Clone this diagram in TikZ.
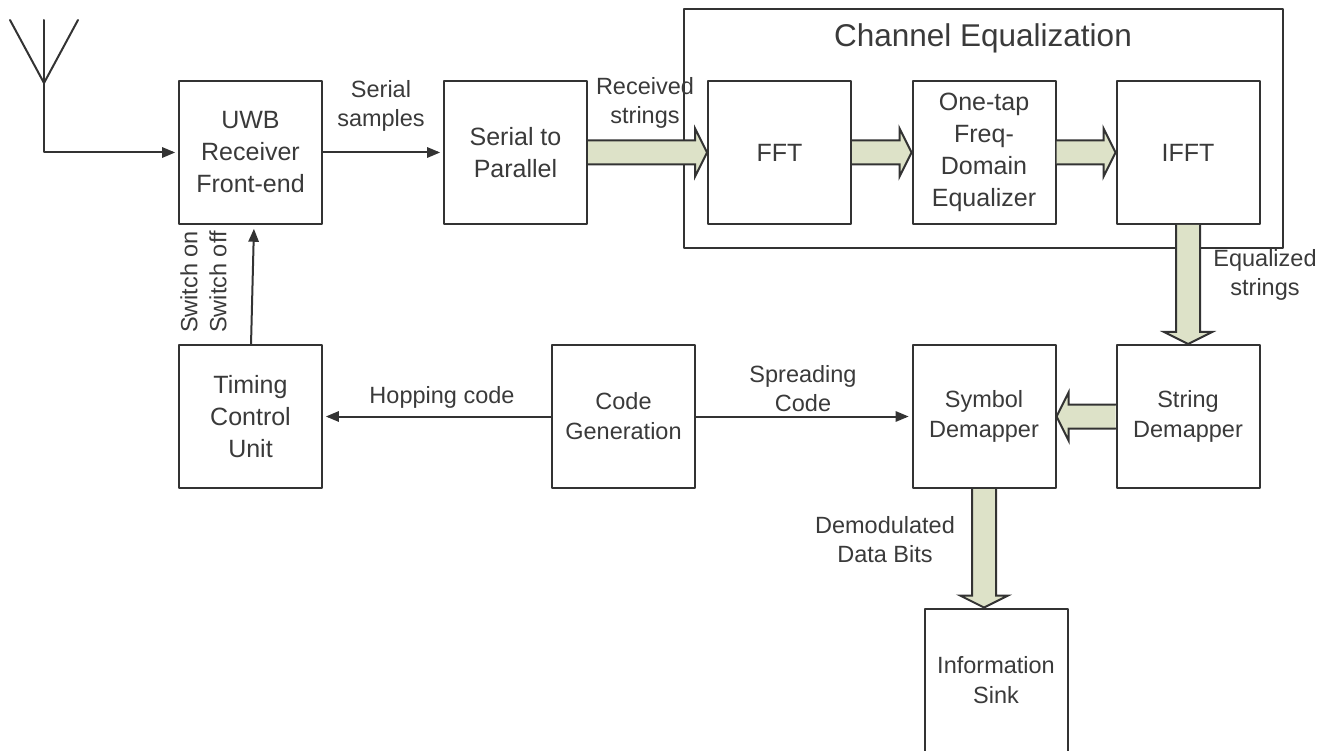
\documentclass[tikz,border=0pt]{standalone}
\usepackage{fontspec}
\setmainfont{Liberation Sans}
\usepackage{tikz}
\usetikzlibrary{arrows}
\usetikzlibrary{calc}
\definecolor{LineGray}{HTML}{333333}
\definecolor{TextGray}{HTML}{3A3A3A}
\definecolor{ShaftGreen}{HTML}{DDE2C8}
\tikzset{
unitbox/.style={draw=LineGray,line width=2pt,fill=white,minimum width=143pt,minimum height=143pt,inner sep=0pt,align=center,text=TextGray,font=\fontsize{25}{32}\selectfont},
smallunit/.style={unitbox,font=\fontsize{23.5}{30}\selectfont},
tag/.style={inner sep=0pt,align=center,text=TextGray,font=\fontsize{23.5}{29}\selectfont},
wire/.style={->,line width=2pt,color=LineGray,shorten >=3pt},
fatwire/.style={draw=LineGray,fill=ShaftGreen,line width=2pt,line join=miter,
to path={($(\tikztostart)!12pt!90:(\tikztotarget)$)
-- ($($(\tikztotarget)!12pt!(\tikztostart)$)!12pt!-90:(\tikztostart)$)
-- ($($(\tikztotarget)!12pt!(\tikztostart)$)!24pt!-90:(\tikztostart)$)
-- (\tikztotarget)
-- ($($(\tikztotarget)!12pt!(\tikztostart)$)!24pt!90:(\tikztostart)$)
-- ($($(\tikztotarget)!12pt!(\tikztostart)$)!12pt!90:(\tikztostart)$)
-- ($(\tikztostart)!12pt!-90:(\tikztotarget)$)}}
}
\begin{document}
\begin{tikzpicture}[line cap=round,line join=round,>=triangle 45,x=1pt,y=-1pt]
\useasboundingbox (0,0) rectangle (1328,751);
% channel equalization frame
\node[draw=LineGray,line width=2pt,minimum width=599pt,minimum height=239pt,inner sep=0pt] (chan) at (983.5,128.5) {};
\node[tag,font=\fontsize{31.5}{36}\selectfont] (chantitle) at (983,38) {Channel Equalization};
% blocks
\node[unitbox] (uwb) at (250.5,152.5) {UWB\\Receiver\\Front-end};
\node[unitbox] (s2p) at (515.5,152.5) {Serial to\\Parallel};
\node[unitbox] (fft) at (779.5,152.5) {FFT};
\node[unitbox] (eq) at (984,152.5) {One-tap\\Freq-\\Domain\\Equalizer};
\node[unitbox] (ifft) at (1188,152.5) {IFFT};
\node[unitbox] (timing) at (250.5,416.5) {Timing\\Control\\Unit};
\node[smallunit] (code) at (623.5,416.5) {Code\\Generation};
\node[smallunit] (symb) at (984,416.5) {Symbol\\Demapper};
\node[smallunit] (strd) at (1188,416.5) {String\\Demapper};
\node[smallunit] (sink) at (996,680) {Information\\Sink};
% antenna
\coordinate (anttop) at (44,20);
\coordinate (antleft) at (10,20);
\coordinate (antright) at (78,20);
\coordinate (antfoot) at (44,83);
\coordinate (swtop) at (254,226);
\coordinate (swbot) at (251,345);
\draw [line width=2pt,color=LineGray] (antleft) -- (antfoot) -- (antright);
\draw [line width=2pt,color=LineGray] (anttop) -- (antfoot);
% thin connectors
\draw [wire] (antfoot) |- (uwb.west);
\draw [wire] (uwb.east) -- (s2p.west);
\draw [wire] (swbot) -- (swtop);
\draw [wire] (code.west) -- (timing.east);
\draw [wire] (code.east) -- (symb.west);
% wide connectors
\draw [fatwire] (s2p.east) to (fft.west);
\draw [fatwire] (fft.east) to (eq.west);
\draw [fatwire] (eq.east) to (ifft.west);
\draw [fatwire] (ifft.south) to (strd.north);
\draw [fatwire] (strd.west) to (symb.east);
\draw [fatwire] (symb.south) to ($(sink.north)+(-12,0)$);
% labels
\node[tag] (lserial) at (381,106) {Serial\\samples};
\node[tag] (lrecv) at (645,103) {Received\\strings};
\node[tag] (lequ) at (1265,275) {Equalized\\strings};
\node[tag] (lhop) at (442,397) {Hopping code};
\node[tag] (lspread) at (803,389) {Spreading\\Code};
\node[tag] (ldemod) at (885,540) {Demodulated\\Data Bits};
\node[tag,rotate=90] (lon) at (189,282) {Switch on};
\node[tag,rotate=90] (loff) at (218,282) {Switch off};
\end{tikzpicture}
\end{document}
